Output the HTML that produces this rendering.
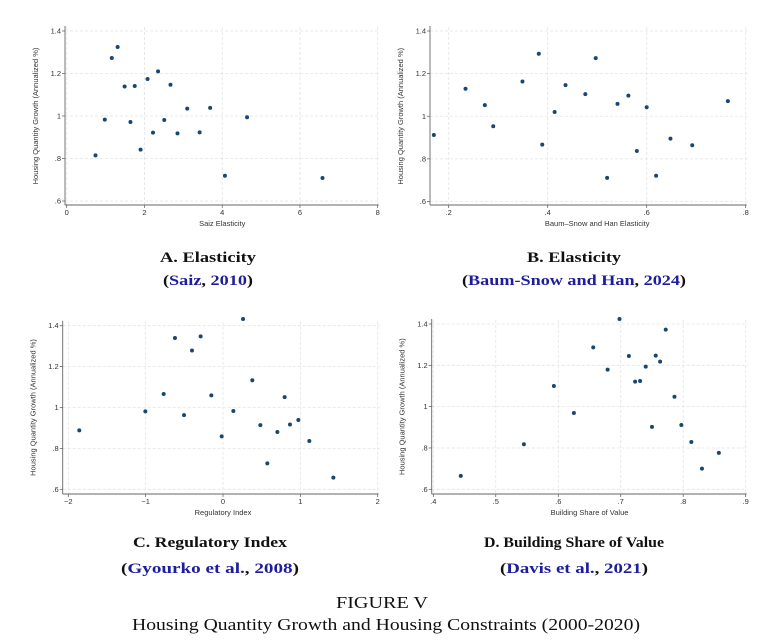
<!DOCTYPE html>
<html><head><meta charset="utf-8"><style>
body{margin:0;background:#fff;}
svg{display:block;}
.tk{font-family:"Liberation Sans",sans-serif;font-size:7.5px;fill:#333;}
.at{font-family:"Liberation Sans",sans-serif;font-size:7.5px;fill:#333;}
.cap{font-family:"Liberation Serif",serif;font-size:15px;font-weight:bold;fill:#111;}
.cit{font-family:"Liberation Serif",serif;font-size:15px;font-weight:bold;fill:#111;}
.blue{fill:#1d1d9e;}
.fig{font-family:"Liberation Serif",serif;font-size:17px;fill:#111;}
</style></head><body>
<svg id="root" width="764" height="643" xmlns="http://www.w3.org/2000/svg">
<text class="cap" x="208" y="262" text-anchor="middle" textLength="96" lengthAdjust="spacingAndGlyphs">A. Elasticity</text>
<text class="cit" x="208" y="285" text-anchor="middle" textLength="90" lengthAdjust="spacingAndGlyphs">(<tspan class="blue">Saiz</tspan>, <tspan class="blue">2010</tspan>)</text>
<text class="cap" x="574" y="262" text-anchor="middle" textLength="94" lengthAdjust="spacingAndGlyphs">B. Elasticity</text>
<text class="cit" x="574" y="285" text-anchor="middle" textLength="224" lengthAdjust="spacingAndGlyphs">(<tspan class="blue">Baum-Snow and Han</tspan>, <tspan class="blue">2024</tspan>)</text>
<text class="cap" x="210" y="547" text-anchor="middle" textLength="154" lengthAdjust="spacingAndGlyphs">C. Regulatory Index</text>
<text class="cit" x="210" y="573" text-anchor="middle" textLength="178" lengthAdjust="spacingAndGlyphs">(<tspan class="blue">Gyourko et al.</tspan>, <tspan class="blue">2008</tspan>)</text>
<text class="cap" x="574" y="547" text-anchor="middle" textLength="180" lengthAdjust="spacingAndGlyphs">D. Building Share of Value</text>
<text class="cit" x="574" y="573" text-anchor="middle" textLength="148" lengthAdjust="spacingAndGlyphs">(<tspan class="blue">Davis et al.</tspan>, <tspan class="blue">2021</tspan>)</text>
<text class="fig" x="382" y="608" text-anchor="middle" textLength="92" lengthAdjust="spacingAndGlyphs">FIGURE V</text>
<text class="fig" x="386" y="630" text-anchor="middle" textLength="508" lengthAdjust="spacingAndGlyphs">Housing Quantity Growth and Housing Constraints (2000-2020)</text>
</svg>
<script>
const yTicks=[0.6,0.8,1.0,1.2,1.4];
const yTickLabels=[".6",".8","1","1.2","1.4"];
const aX=[0.74,0.98,1.16,1.31,1.49,1.64,1.75,1.90,2.08,2.22,2.35,2.51,2.67,2.85,3.10,3.42,3.69,4.07,4.64,6.58];
const aY=[0.815,0.983,1.273,1.325,1.139,0.972,1.141,0.842,1.174,0.922,1.210,0.981,1.147,0.918,1.035,0.923,1.038,0.719,0.994,0.708];
const aTicks=[0,2,4,6,8];
const aTickLabels=["0","2","4","6","8"];
const bX=[0.170,0.234,0.273,0.290,0.349,0.382,0.414,0.436,0.389,0.476,0.497,0.520,0.541,0.563,0.580,0.600,0.619,0.648,0.692,0.764];
const bY=[0.912,1.129,1.052,0.953,1.163,1.293,1.020,1.146,0.867,1.104,1.273,0.711,1.058,1.097,0.837,1.042,0.721,0.895,0.864,1.071];
const bTicks=[0.2,0.4,0.6,0.8];
const bTickLabels=[".2",".4",".6",".8"];
const cX=[-1.858,-1.004,-0.767,-0.621,-0.504,-0.401,-0.289,-0.151,-0.017,0.134,0.259,0.379,0.483,0.573,0.703,0.797,0.866,0.974,1.116,1.427];
const cY=[0.888,0.981,1.066,1.340,0.963,1.279,1.348,1.059,0.859,0.983,1.433,1.133,0.914,0.727,0.880,1.051,0.917,0.939,0.836,0.657];
const cTicks=[-2,-1,0,1,2];
const cTickLabels=["\u22122","\u22121","0","1","2"];
const dX=[0.444,0.545,0.593,0.625,0.656,0.679,0.698,0.713,0.723,0.731,0.740,0.750,0.756,0.763,0.772,0.786,0.797,0.813,0.830,0.857];
const dY=[0.665,0.818,1.100,0.969,1.287,1.179,1.424,1.245,1.121,1.124,1.194,0.902,1.247,1.218,1.373,1.048,0.911,0.829,0.700,0.776];
const dTicks=[0.4,0.5,0.6,0.7,0.8,0.9];
const dTickLabels=[".4",".5",".6",".7",".8",".9"];

const NS="http://www.w3.org/2000/svg";
const root=document.getElementById('root');
function mk(tag,attrs,parent){const e=document.createElementNS(NS,tag);for(const k in attrs)e.setAttribute(k,attrs[k]);(parent||root).appendChild(e);return e;}

function panel(id,g,xs,ys,xt,xtl,title){
  const grp=mk('g',{});
  
  
  const xmin=xt[0],xmax=xt[xt.length-1];
  const sx=v=>g.x0+(v-xmin)/(xmax-xmin)*(g.x1-g.x0);
  const sy=v=>g.yb+(v-0.6)/(0.8)*(g.yt-g.yb);
  yTicks.forEach((t,i)=>{
    const gl=mk('line',{x1:g.ax,x2:g.x1+2,y1:sy(t),y2:sy(t),stroke:'#e3e3e3','stroke-width':0.8,'stroke-dasharray':'3,2'},grp);
    
    
    mk('line',{x1:g.ax-3,x2:g.ax,y1:sy(t),y2:sy(t),stroke:'#555','stroke-width':0.7},grp);
    const tl=mk('text',{x:g.ax-4,y:sy(t)+2.5,'text-anchor':'end',class:'tk'},grp);
    tl.textContent=yTickLabels[i];
    
    
  });
  xt.forEach((t,i)=>{
    const gl=mk('line',{x1:sx(t),x2:sx(t),y1:g.yt-4,y2:g.axy,stroke:'#e3e3e3','stroke-width':0.8,'stroke-dasharray':'3,2'},grp);
    
    
    mk('line',{x1:sx(t),x2:sx(t),y1:g.axy,y2:g.axy+3,stroke:'#555','stroke-width':0.7},grp);
    const tl=mk('text',{x:sx(t),y:g.axy+10,'text-anchor':'middle',class:'tk'},grp);
    tl.textContent=xtl[i];
    
    
  });
  const yl=mk('line',{x1:g.ax,x2:g.ax,y1:g.yt-5,y2:g.axy,stroke:'#666','stroke-width':0.9},grp);
  
  
  const xl=mk('line',{x1:g.ax,x2:g.x1+1,y1:g.axy,y2:g.axy,stroke:'#666','stroke-width':0.9},grp);
  
  
  const xa=mk('text',{x:(g.x0+g.x1)/2,y:g.axy+21,'text-anchor':'middle',class:'at'},grp);
  xa.textContent=title;
  
  
  const cy=(g.yt+g.yb)/2, cx=g.ax-27;
  const ya=mk('text',{x:cx,y:cy,'text-anchor':'middle',class:'at',transform:'rotate(-90 '+cx+' '+cy+')'},grp);
  ya.textContent='Housing Quantity Growth (Annualized %)';
  
  
  xs.forEach((v,i)=>{
    const c=mk('circle',{cx:sx(v),cy:sy(ys[i]),r:2,fill:'#1a476f'},grp);
    
    
  });
}
panel('panel-a',{ax:65,x0:66.7,x1:377.7,yt:31,yb:201,axy:205},aX,aY,aTicks,aTickLabels,'Saiz Elasticity');
panel('panel-b',{ax:430,x0:448.7,x1:745.7,yt:31,yb:201.5,axy:205},bX,bY,bTicks,bTickLabels,'Baum\u2013Snow and Han Elasticity');
panel('panel-c',{ax:62.7,x0:68.3,x1:377.7,yt:325.7,yb:489.3,axy:494},cX,cY,cTicks,cTickLabels,'Regulatory Index');
panel('panel-d',{ax:431.7,x0:433.3,x1:745.7,yt:324,yb:489.3,axy:494},dX,dY,dTicks,dTickLabels,'Building Share of Value');
</script>
</body></html>
